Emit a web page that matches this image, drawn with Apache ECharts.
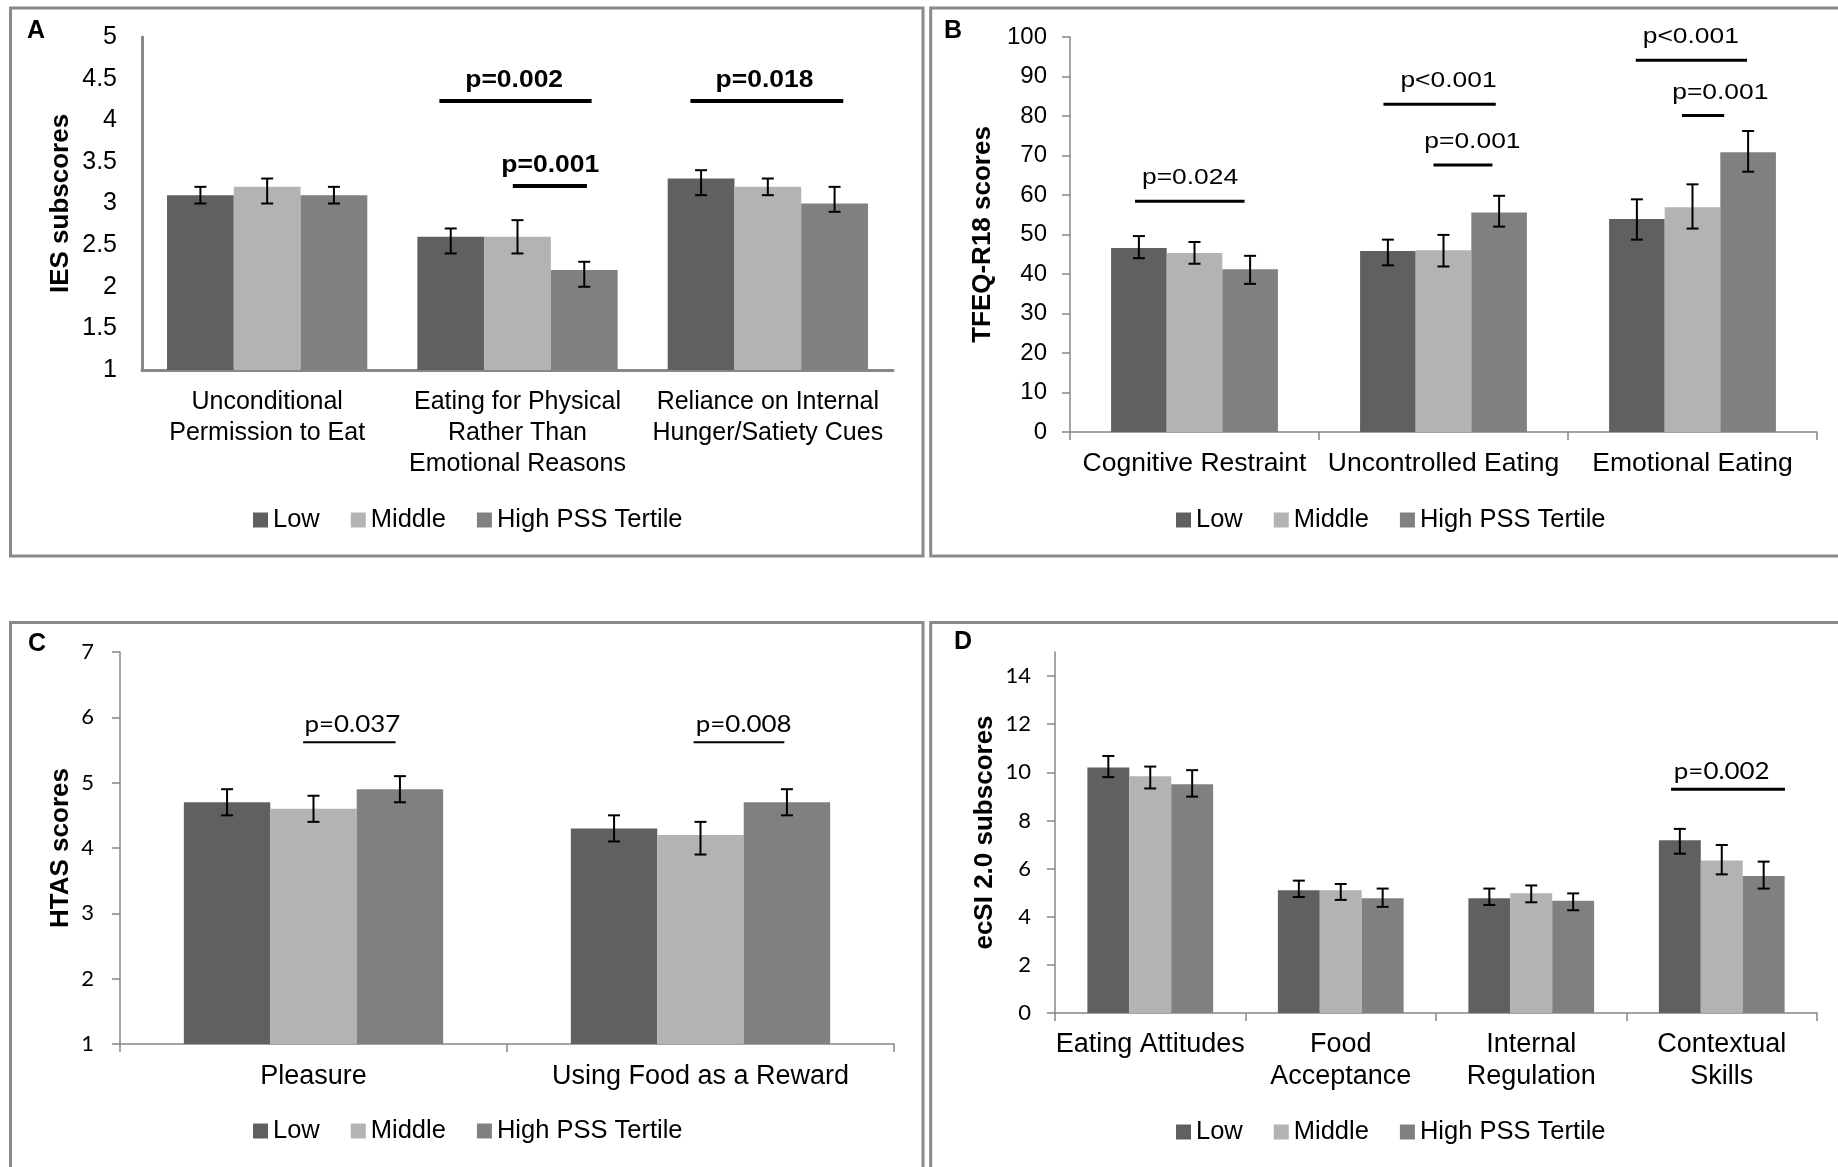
<!DOCTYPE html>
<html>
<head>
<meta charset="utf-8">
<script src="https://cdn.jsdelivr.net/npm/echarts@6/dist/echarts.min.js"></script>
<style>
html,body{margin:0;padding:0;background:#fff;}
#chart{width:1838px;height:1167px;}
</style>
</head>
<body>
<div id="chart"></div>
<script>
// ---------- shared ----------
const seriesNames = ['Low', 'Middle', 'High PSS Tertile'];

// ---------- Panel A : IES ----------
const catsA = ['Unconditional\nPermission to Eat', 'Eating for Physical\nRather Than\nEmotional Reasons', 'Reliance on Internal\nHunger/Satiety Cues'];
const ticksA = [1, 1.5, 2, 2.5, 3, 3.5, 4, 4.5, 5];
const lowA = [3.1, 2.6, 3.3];
const midA = [3.2, 2.6, 3.2];
const highA = [3.1, 2.2, 3.0];
const lowErrA = [[3.0, 3.2], [2.4, 2.7], [3.1, 3.4]];
const midErrA = [[3.0, 3.3], [2.4, 2.8], [3.1, 3.3]];
const highErrA = [[3.0, 3.2], [2.0, 2.3], [2.9, 3.2]];
const pTextA = ['p=0.002', 'p=0.001', 'p=0.018'];
const pCatA = [1, 1, 2];
const pLevelA = [4.23, 3.21, 4.23];
const pFromA = [-0.17, 0.93, -0.16];   // bar units from the Low bar
const pToA = [2.11, 2.04, 2.13];
const pTextAtA = [0.95, 1.49, 0.95];

// ---------- Panel B : TFEQ-R18 ----------
const catsB = ['Cognitive Restraint', 'Uncontrolled Eating', 'Emotional Eating'];
const ticksB = [0, 10, 20, 30, 40, 50, 60, 70, 80, 90, 100];
const lowB = [46.6, 45.8, 53.9];
const midB = [45.3, 46.0, 56.9];
const highB = [41.2, 55.6, 70.8];
const lowErrB = [[44.0, 49.6], [42.2, 48.7], [48.7, 58.9]];
const midErrB = [[42.6, 48.1], [41.9, 49.9], [51.5, 62.7]];
const highErrB = [[37.5, 44.6], [52.0, 59.8], [65.9, 76.2]];
const pTextB = ['p=0.024', 'p<0.001', 'p=0.001', 'p<0.001', 'p=0.001'];
const pCatB = [0, 1, 1, 2, 2];
const pLevelB = [58.4, 83.0, 67.6, 94.1, 80.1];
const pFromB = [-0.07, -0.08, 0.82, -0.02, 0.81];
const pToB = [1.9, 1.94, 1.88, 1.98, 1.57];
const pTextAtB = [0.92, 1.09, 1.52, 0.97, 1.5];

// ---------- Panel C : HTAS ----------
const catsC = ['Pleasure', 'Using Food as a Reward'];
const ticksC = [1, 2, 3, 4, 5, 6, 7];
const lowC = [4.7, 4.3];
const midC = [4.6, 4.2];
const highC = [4.9, 4.7];
const lowErrC = [[4.5, 4.9], [4.1, 4.5]];
const midErrC = [[4.4, 4.8], [3.9, 4.4]];
const highErrC = [[4.7, 5.1], [4.5, 4.9]];
const pTextC = ['p=0.037', 'p=0.008'];
const pCatC = [0, 1];
const pLevelC = [5.62, 5.62];
const pFromC = [0.88, 0.92];
const pToC = [1.95, 1.97];
const pTextAtC = [1.45, 1.5];

// ---------- Panel D : ecSI 2.0 ----------
const catsD = ['Eating Attitudes', 'Food\nAcceptance', 'Internal\nRegulation', 'Contextual\nSkills'];
const ticksD = [0, 2, 4, 6, 8, 10, 12, 14];
const axisMaxD = 15;
const lowD = [10.2, 5.1, 4.77, 7.18];
const midD = [9.84, 5.1, 4.98, 6.34];
const highD = [9.5, 4.77, 4.66, 5.69];
const lowErrD = [[9.8, 10.68], [4.82, 5.5], [4.49, 5.17], [6.62, 7.65]];
const midErrD = [[9.33, 10.24], [4.7, 5.36], [4.6, 5.3], [5.76, 6.98]];
const highErrD = [[8.99, 10.09], [4.41, 5.17], [4.27, 4.97], [5.17, 6.29]];
const pTextD = ['p=0.002'];
const pCatD = [3];
const pLevelD = [9.3];
const pFromD = [-0.21];
const pToD = [2.51];
const pTextAtD = [1.0];

// ---------- styling ----------
const ARIAL = "'Liberation Sans', Arial, sans-serif";
const CALIBRI = "Lato, 'Liberation Sans', sans-serif";
const barColors = ['#606060', '#b3b3b3', '#808080'];
const AXIS = '#878787';

const panels = [
  { cats: catsA, ticks: ticksA, max: ticksA[ticksA.length - 1], vals: [lowA, midA, highA], errs: [lowErrA, midErrA, highErrA],
    p: { text: pTextA, cat: pCatA, level: pLevelA, from: pFromA, to: pToA, at: pTextAtA },
    grid: [142, 37, 751, 333], gap: 0.2, axisW: 3, ticksOn: false,
    yName: 'IES subscores', nameGap: 68, yFont: 25, yFamily: ARIAL, yMargin: 25,
    xFont: 25, xLine: 31, xMargin: 17,
    legend: [253, 507], pFont: { size: 23, weight: 'bold', family: ARIAL, scaleX: 1.15 }, pLine: 4, pGap: 20 },
  { cats: catsB, ticks: ticksB, max: ticksB[ticksB.length - 1], vals: [lowB, midB, highB], errs: [lowErrB, midErrB, highErrB],
    p: { text: pTextB, cat: pCatB, level: pLevelB, from: pFromB, to: pToB, at: pTextAtB },
    grid: [1070, 37, 747, 395], gap: 0.33, axisW: 1.5, ticksOn: true,
    yName: 'TFEQ-R18 scores', nameGap: 74, yFont: 24, yFamily: ARIAL, yMargin: 23,
    xFont: 26.5, xLine: 30, xMargin: 17,
    legend: [1176, 507], pFont: { size: 22, weight: 'normal', family: ARIAL, scaleX: 1.2 }, pLine: 3, pGap: 23 },
  { cats: catsC, ticks: ticksC, max: ticksC[ticksC.length - 1], vals: [lowC, midC, highC], errs: [lowErrC, midErrC, highErrC],
    p: { text: pTextC, cat: pCatC, level: pLevelC, from: pFromC, to: pToC, at: pTextAtC },
    grid: [120, 652, 774, 392], gap: 0.33, axisW: 1.5, ticksOn: true,
    yName: 'HTAS scores', nameGap: 46, yFont: 22, yFamily: CALIBRI, yMargin: 26,
    xFont: 27, xLine: 30, xMargin: 18,
    legend: [253, 1118], pFont: { size: 24, weight: 'normal', family: CALIBRI, scaleX: 1.08 }, pLine: 2, pGap: 18 },
  { cats: catsD, ticks: ticksD, max: axisMaxD, vals: [lowD, midD, highD], errs: [lowErrD, midErrD, highErrD],
    p: { text: pTextD, cat: pCatD, level: pLevelD, from: pFromD, to: pToD, at: pTextAtD },
    grid: [1055, 652, 762, 361], gap: 0.34, axisW: 1.5, ticksOn: true,
    yName: 'ecSI 2.0 subscores', nameGap: 57, yFont: 22, yFamily: CALIBRI, yMargin: 24,
    xFont: 27, xLine: 31.5, xMargin: 16,
    legend: [1176, 1119], pFont: { size: 24, weight: 'normal', family: CALIBRI, scaleX: 1.08 }, pLine: 3, pGap: 18 }
];

const option = {
  animation: false,
  backgroundColor: '#ffffff',
  textStyle: { fontFamily: ARIAL, color: '#000' },
  grid: [], xAxis: [], yAxis: [], legend: [], series: [], graphic: []
};

function errorRenderer(barIdx, gap) {
  return function (params, api) {
    const c = api.value(0);
    const lo = api.coord([c, api.value(1)]);
    const hi = api.coord([c, api.value(2)]);
    const bw = api.size([1, 0])[0] * (1 - gap) / 3;
    const x = lo[0] + (barIdx - 1) * bw;
    const st = { stroke: '#000', lineWidth: 2 };
    const cap = 6;
    return { type: 'group', children: [
      { type: 'line', shape: { x1: x, y1: hi[1], x2: x, y2: lo[1] }, style: st },
      { type: 'line', shape: { x1: x - cap, y1: hi[1], x2: x + cap, y2: hi[1] }, style: st },
      { type: 'line', shape: { x1: x - cap, y1: lo[1], x2: x + cap, y2: lo[1] }, style: st }
    ] };
  };
}

function bracketRenderer(pp) {
  return function (params, api) {
    const i = params.dataIndex;
    const spec = pp.p;
    const c = api.coord([api.value(0), api.value(1)]);
    const bw = api.size([1, 0])[0] * (1 - pp.gap) / 3;
    const x0 = c[0] - bw;
    return { type: 'group', children: [
      { type: 'line', shape: { x1: x0 + spec.from[i] * bw, y1: c[1], x2: x0 + spec.to[i] * bw, y2: c[1] },
        style: { stroke: '#000', lineWidth: pp.pLine } },
      { type: 'text', x: x0 + spec.at[i] * bw, y: c[1] - pp.pGap, scaleX: pp.pFont.scaleX,
        style: { text: spec.text[i], fill: '#000', fontSize: pp.pFont.size, fontWeight: pp.pFont.weight,
                 fontFamily: pp.pFont.family, align: 'center', verticalAlign: 'middle' } }
    ] };
  };
}

panels.forEach(function (pp, i) {
  option.grid.push({ left: pp.grid[0], top: pp.grid[1], width: pp.grid[2], height: pp.grid[3] });
  option.xAxis.push({
    type: 'category', gridIndex: i, data: pp.cats, boundaryGap: true,
    axisLine: { show: true, lineStyle: { color: AXIS, width: pp.axisW } },
    axisTick: { show: pp.ticksOn, length: 8, lineStyle: { color: AXIS, width: 1.5 } },
    axisLabel: { interval: 0, color: '#000', fontSize: pp.xFont, lineHeight: pp.xLine, margin: pp.xMargin, fontFamily: ARIAL },
    splitLine: { show: false }
  });
  option.yAxis.push({
    type: 'value', gridIndex: i, min: pp.ticks[0], max: pp.max, interval: pp.ticks[1] - pp.ticks[0],
    name: pp.yName, nameLocation: 'middle', nameGap: pp.nameGap,
    nameTextStyle: { fontWeight: 'bold', fontSize: 26, color: '#000', fontFamily: ARIAL },
    axisLine: { show: true, lineStyle: { color: AXIS, width: pp.axisW } },
    axisTick: { show: pp.ticksOn, length: 8, customValues: pp.ticks, lineStyle: { color: AXIS, width: 1.5 } },
    axisLabel: { customValues: pp.ticks, showMaxLabel: true, showMinLabel: true,
                 color: '#000', fontSize: pp.yFont, fontFamily: pp.yFamily, margin: pp.yMargin },
    splitLine: { show: false }
  });
  option.legend.push({
    left: pp.legend[0], top: pp.legend[1], orient: 'horizontal', icon: 'rect', padding: 0,
    itemWidth: 15, itemHeight: 15, itemGap: 31, selectedMode: false,
    data: seriesNames, textStyle: { fontSize: 25.5, lineHeight: 26, color: '#000', fontFamily: ARIAL }
  });
  for (let k = 0; k < 3; k++) {
    option.series.push({
      type: 'bar', name: seriesNames[k], xAxisIndex: i, yAxisIndex: i, data: pp.vals[k],
      barGap: '0%', barCategoryGap: (pp.gap * 100) + '%', itemStyle: { color: barColors[k] }
    });
  }
  for (let k = 0; k < 3; k++) {
    option.series.push({
      type: 'custom', name: 'err' + i + k, xAxisIndex: i, yAxisIndex: i, z: 5,
      renderItem: errorRenderer(k, pp.gap), encode: { x: 0, y: [1, 2] },
      data: pp.errs[k].map(function (e, j) { return [j, e[0], e[1]]; })
    });
  }
  option.series.push({
    type: 'custom', name: 'p' + i, xAxisIndex: i, yAxisIndex: i, z: 6,
    renderItem: bracketRenderer(pp), encode: { x: 0, y: 1 },
    data: pp.p.cat.map(function (c, j) { return [c, pp.p.level[j]]; })
  });
});

// panel frames and letters
const frames = [[10.5, 8, 912.5, 548], [930.7, 8, 930, 548], [10.5, 622.5, 912.5, 600], [930.7, 622.5, 930, 600]];
const letters = [['A', 36, 31], ['B', 953, 31], ['C', 37, 644], ['D', 963, 642]];
frames.forEach(function (f) {
  option.graphic.push({ type: 'rect', shape: { x: f[0], y: f[1], width: f[2], height: f[3] },
    style: { fill: 'none', stroke: '#8a8a8a', lineWidth: 3 }, silent: true, z: 0 });
});
letters.forEach(function (l) {
  option.graphic.push({ type: 'text', x: l[1], y: l[2],
    style: { text: l[0], fill: '#000', fontSize: 25, fontWeight: 'bold', fontFamily: ARIAL, align: 'center', verticalAlign: 'middle' }, z: 10 });
});

const chart = echarts.init(document.getElementById('chart'), null, { renderer: 'canvas' });
chart.setOption(option);
</script>
</body>
</html>
